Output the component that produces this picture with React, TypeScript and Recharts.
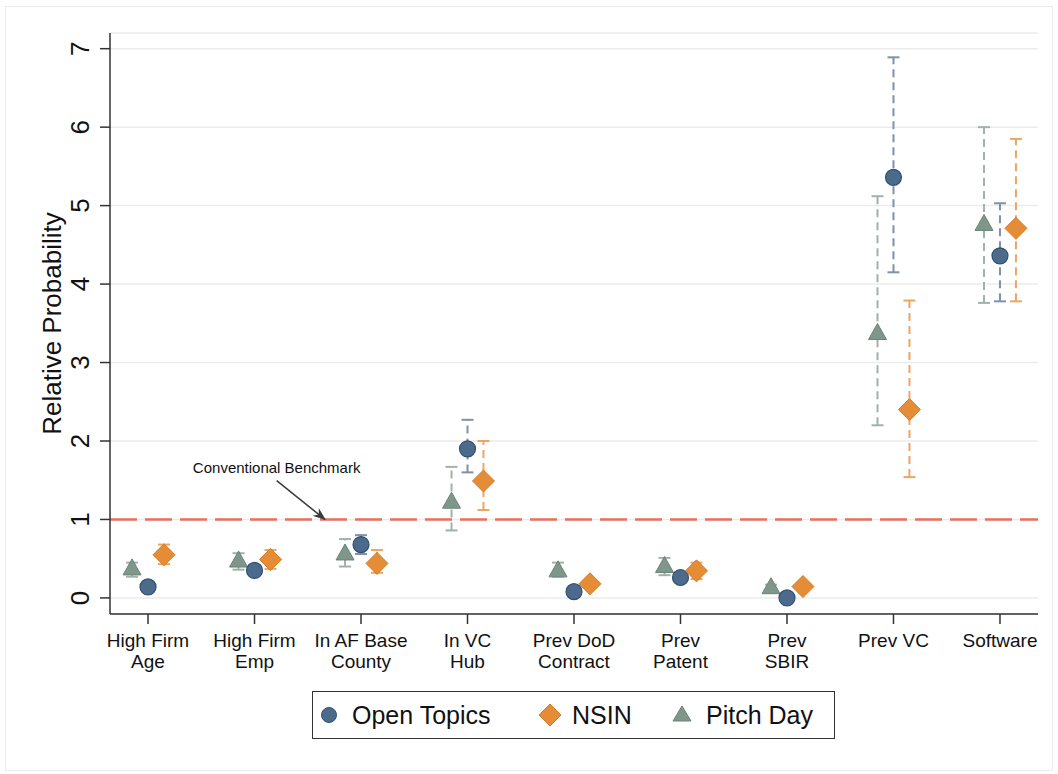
import {
	CartesianGrid,
	ErrorBar,
	Legend,
	ReferenceDot,
	ReferenceLine,
	Scatter,
	ScatterChart,
	XAxis,
	YAxis,
} from "recharts";

const FONT = '"Liberation Sans", Arial, Helvetica, sans-serif';

// category labels, split on two lines like the original figure
const CATEGORIES: string[][] = [
	["High Firm", "Age"],
	["High Firm", "Emp"],
	["In AF Base", "County"],
	["In VC", "Hub"],
	["Prev DoD", "Contract"],
	["Prev", "Patent"],
	["Prev", "SBIR"],
	["Prev VC"],
	["Software"],
];

const Y_TICKS = [0, 1, 2, 3, 4, 5, 6, 7];
const X_TICKS = [1, 2, 3, 4, 5, 6, 7, 8, 9];

// Open Topics
const OT_VALUE = [0.14, 0.35, 0.68, 1.9, 0.08, 0.26, 0.0, 5.36, 4.36];
const OT_LOW = [0.1, 0.31, 0.56, 1.6, 0.05, 0.22, -0.03, 4.15, 3.78];
const OT_HIGH = [0.18, 0.4, 0.8, 2.27, 0.12, 0.31, 0.04, 6.89, 5.03];

// NSIN
const NSIN_VALUE = [0.55, 0.49, 0.44, 1.49, 0.18, 0.345, 0.145, 2.4, 4.71];
const NSIN_LOW = [0.43, 0.37, 0.32, 1.12, 0.13, 0.24, 0.1, 1.54, 3.78];
const NSIN_HIGH = [0.68, 0.61, 0.61, 2.0, 0.23, 0.45, 0.19, 3.79, 5.85];

// Pitch Day
const PD_VALUE = [0.37, 0.47, 0.56, 1.22, 0.345, 0.4, 0.13, 3.37, 4.76];
const PD_LOW = [0.27, 0.36, 0.4, 0.86, 0.27, 0.29, 0.09, 2.2, 3.76];
const PD_HIGH = [0.45, 0.57, 0.75, 1.67, 0.45, 0.51, 0.17, 5.12, 6.0];

const BENCHMARK = 1;

const OT_COLOR = "#4b6a8c";
const NSIN_COLOR = "#e58c36";
const PD_COLOR = "#7e978a";

const buildRows = (values: number[], low: number[], high: number[], offset: number) =>
	values.map((v, i) => ({
		x: i + 1 + offset,
		y: v,
		err: [v - low[i], high[i] - v],
	}));

const buildCaps = (low: number[], high: number[], offset: number) =>
	low.flatMap((l, i) => [
		{ x: i + 1 + offset, y: l },
		{ x: i + 1 + offset, y: high[i] },
	]);

const otRows = buildRows(OT_VALUE, OT_LOW, OT_HIGH, 0);
const nsinRows = buildRows(NSIN_VALUE, NSIN_LOW, NSIN_HIGH, 0.15);
const pdRows = buildRows(PD_VALUE, PD_LOW, PD_HIGH, -0.15);

const SERIES = [
	{ key: "pd", rows: pdRows, caps: buildCaps(PD_LOW, PD_HIGH, -0.15), bar: "#a3b1aa" },
	{ key: "ot", rows: otRows, caps: buildCaps(OT_LOW, OT_HIGH, 0), bar: "#7e92a8" },
	{ key: "nsin", rows: nsinRows, caps: buildCaps(NSIN_LOW, NSIN_HIGH, 0.15), bar: "#eca662" },
];

function CircleMark({ cx, cy }: any) {
	return <circle cx={cx} cy={cy} r={8} fill={OT_COLOR} stroke="#34506f" strokeWidth={1.2} />;
}

function DiamondMark({ cx, cy }: any) {
	const s = 11;
	return (
		<polygon
			points={`${cx},${cy - s} ${cx + s},${cy} ${cx},${cy + s} ${cx - s},${cy}`}
			fill={NSIN_COLOR}
			stroke="#d47b27"
			strokeWidth={1}
		/>
	);
}

function TriangleMark({ cx, cy }: any) {
	return (
		<polygon
			points={`${cx},${cy - 10} ${cx + 9},${cy + 6} ${cx - 9},${cy + 6}`}
			fill={PD_COLOR}
			stroke="#6b8477"
			strokeWidth={1}
		/>
	);
}

function capShape(color: string) {
	return ({ cx, cy }: any) => (
		<line x1={cx - 6} x2={cx + 6} y1={cy} y2={cy} stroke={color} strokeWidth={2} />
	);
}

const Hidden = () => <g />;

function XTick({ x, y, payload }: any) {
	const lines = CATEGORIES[payload.value - 1] ?? [];
	return (
		<text x={x} y={y} textAnchor="middle" fontSize={19} fill="#111" fontFamily={FONT}>
			{lines.map((line) => (
				<tspan key={line} x={x} dy={21}>
					{line}
				</tspan>
			))}
		</text>
	);
}

function YTick({ x, y, payload }: any) {
	const bx = x - 9;
	return (
		<text
			x={bx}
			y={y}
			transform={`rotate(-90, ${bx}, ${y})`}
			textAnchor="middle"
			fontSize={26}
			fill="#111"
			fontFamily={FONT}
		>
			{payload.value}
		</text>
	);
}

function YTitle({ viewBox }: any) {
	const bx = viewBox.x + 31;
	const cy = viewBox.y + viewBox.height / 2;
	return (
		<text
			x={bx}
			y={cy}
			transform={`rotate(-90, ${bx}, ${cy})`}
			textAnchor="middle"
			fontSize={26}
			fill="#111"
			fontFamily={FONT}
		>
			Relative Probability
		</text>
	);
}

function LegendBox() {
	const text = { position: "absolute" as const, top: 8, fontSize: 25, color: "#111", fontFamily: FONT, lineHeight: "30px" };
	return (
		<div
			style={{
				position: "relative",
				width: 521,
				height: 46,
				border: "1.5px solid #333",
				background: "#fff",
			}}
		>
			<svg width={521} height={46} style={{ position: "absolute", left: 0, top: 0 }}>
				<circle cx={16} cy={23} r={7.5} fill={OT_COLOR} stroke="#34506f" />
				<polygon points="237,12 248,23 237,34 226,23" fill={NSIN_COLOR} stroke="#d47b27" />
				<polygon points="369,14 378,29 360,29" fill={PD_COLOR} stroke="#6b8477" />
			</svg>
			<span style={{ ...text, left: 39 }}>Open Topics</span>
			<span style={{ ...text, left: 259 }}>NSIN</span>
			<span style={{ ...text, left: 393 }}>Pitch Day</span>
		</div>
	);
}

export default function App() {
	return (
		<div
			style={{
				position: "absolute",
				left: 5,
				top: 6,
				width: 1046,
				height: 763,
				border: "1px solid #ececec",
				background: "#fff",
			}}
		>
			<svg width={0} height={0} style={{ position: "absolute" }}>
				<defs>
					<marker
						id="bench-arrow"
						markerUnits="userSpaceOnUse"
						markerWidth={14}
						markerHeight={12}
						refX={12}
						refY={5}
						orient="auto"
					>
						<path d="M0,0 L13,5 L0,10 L4,5 Z" fill="#3a3a3a" />
					</marker>
				</defs>
			</svg>
			<div style={{ position: "absolute", left: 2, top: 1 }}>
				<ScatterChart
					width={1042}
					height={758}
					margin={{ top: 25, right: 12, bottom: 92, left: 22 }}
				>
					<CartesianGrid horizontal vertical={false} stroke="#ebebeb" strokeWidth={1.5} />
					<XAxis
						type="number"
						dataKey="x"
						domain={[0.643, 9.357]}
						ticks={X_TICKS}
						allowDataOverflow
						height={60}
						tickSize={10}
						tickMargin={2}
						axisLine={{ stroke: "#333", strokeWidth: 1.5 }}
						tickLine={{ stroke: "#333", strokeWidth: 1.5 }}
						tick={<XTick />}
						interval={0}
					/>
					<YAxis
						type="number"
						dataKey="y"
						domain={[-0.205, 7.2]}
						ticks={Y_TICKS}
						allowDataOverflow
						width={80}
						tickSize={10}
						tickMargin={2}
						axisLine={{ stroke: "#333", strokeWidth: 1.5 }}
						tickLine={{ stroke: "#333", strokeWidth: 1.5 }}
						tick={<YTick />}
						interval={0}
						label={<YTitle />}
					/>
					<ReferenceLine
						y={BENCHMARK}
						stroke="#e6705f"
						strokeWidth={2.5}
						strokeDasharray="27 8"
					/>
					<ReferenceLine
						segment={[
							{ x: 2.208, y: 1.494 },
							{ x: 2.662, y: 1.0 },
						]}
						stroke="#3a3a3a"
						strokeWidth={1.5}
						markerEnd="url(#bench-arrow)"
					/>
					<ReferenceDot
						x={2.208}
						y={1.664}
						r={0}
						fill="none"
						stroke="none"
						label={{
							value: "Conventional Benchmark",
							position: "center",
							fontSize: 15,
							fill: "#111",
							fontFamily: FONT,
						}}
					/>
					{SERIES.map((s) => (
						<Scatter
							key={`${s.key}-bar`}
							data={s.rows}
							shape={Hidden}
							isAnimationActive={false}
						>
							<ErrorBar
								dataKey="err"
								direction="y"
								width={0}
								stroke={s.bar}
								strokeWidth={2}
								strokeDasharray="8 5"
								isAnimationActive={false}
							/>
						</Scatter>
					))}
					{SERIES.map((s) => (
						<Scatter
							key={`${s.key}-cap`}
							data={s.caps}
							shape={capShape(s.bar)}
							isAnimationActive={false}
						/>
					))}
					<Scatter data={pdRows} shape={TriangleMark} isAnimationActive={false} />
					<Scatter data={otRows} shape={CircleMark} isAnimationActive={false} />
					<Scatter data={nsinRows} shape={DiamondMark} isAnimationActive={false} />
					<Legend
						layout="horizontal"
						verticalAlign="middle"
						align="center"
						content={() => <LegendBox />}
						wrapperStyle={{ top: 683, left: 304, width: 524, height: 49 }}
					/>
				</ScatterChart>
			</div>
		</div>
	);
}
